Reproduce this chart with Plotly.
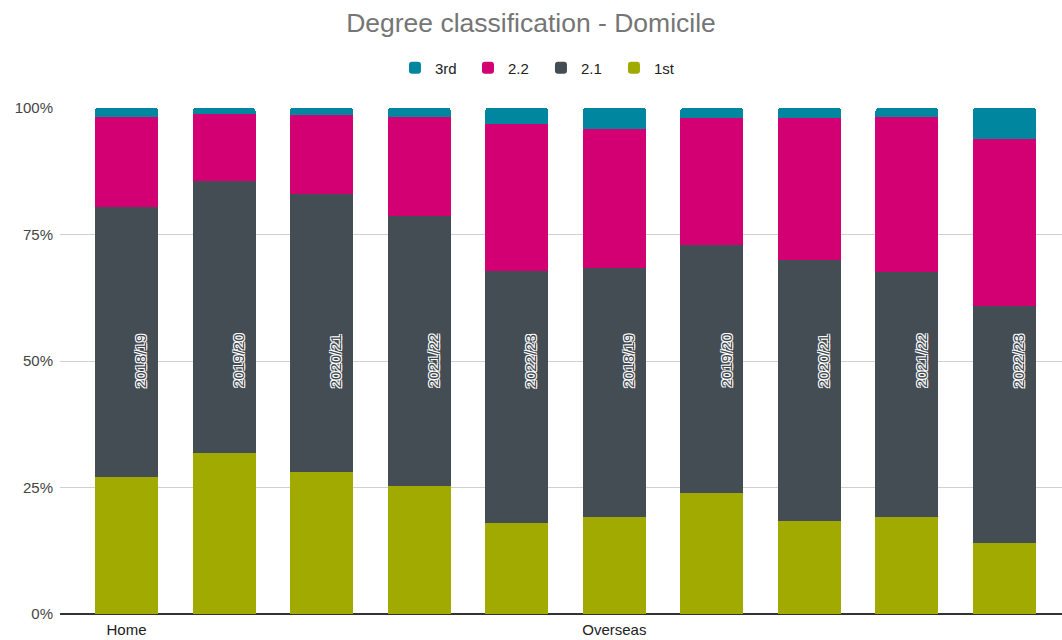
import plotly.graph_objects as go

# x positions: Home 2018/19 .. 2022/23, then Overseas 2018/19 .. 2022/23
groups = ["Home", "", "", "", "", "Overseas", "", "", "", ""]
years = ["2018/19", "2019/20", "2020/21", "2021/22", "2022/23",
         "2018/19", "2019/20", "2020/21", "2021/22", "2022/23"]

first = [27.1, 31.8, 28.0, 25.3, 18.0, 19.1, 24.0, 18.3, 19.1, 14.0]
two_one = [53.3, 53.8, 55.1, 53.3, 49.8, 49.3, 48.9, 51.7, 48.4, 46.8]
two_two = [17.9, 13.2, 15.5, 19.7, 29.0, 27.4, 25.1, 28.0, 30.7, 33.1]
third = [1.7, 1.2, 1.4, 1.7, 3.2, 4.2, 2.0, 2.0, 1.8, 6.1]

y_ticks = [0, 25, 50, 75, 100]
y_tick_text = ["0%", "25%", "50%", "75%", "100%"]

x = list(range(len(years)))

series = [
    ("1st", first, "#a0aa00"),
    ("2.1", two_one, "#444c54"),
    ("2.2", two_two, "#d20073"),
    ("3rd", third, "#00869f"),
]

fig = go.Figure()
for name, vals, color in series:
    fig.add_trace(
        go.Bar(
            x=x,
            y=vals,
            name=name,
            marker=dict(color=color, line=dict(width=0)),
            width=0.646,
            hoverinfo="skip",
        )
    )

# rotated year labels inside the bars (dark text, white outline)
for xi, yr in zip(x, years):
    fig.add_annotation(
        x=xi + 0.14,
        y=50,
        xref="x",
        yref="y",
        text=yr,
        textangle=-90,
        showarrow=False,
        font=dict(
            family="Liberation Sans, Arial, sans-serif",
            size=15,
            color="#3e454c",
            shadow="-1px -1px 0 #fff, 1px -1px 0 #fff, -1px 1px 0 #fff, 1px 1px 0 #fff",
        ),
    )

fig.update_layout(
    width=1062,
    height=640,
    barmode="stack",
    barcornerradius=3,
    paper_bgcolor="white",
    plot_bgcolor="white",
    font=dict(family="Liberation Sans, Arial, sans-serif", size=15, color="#444"),
    title=dict(
        text="Degree classification - Domicile",
        x=0.5,
        xanchor="center",
        y=0.965,
        yanchor="middle",
        font=dict(size=26.5, color="#757575"),
    ),
    legend=dict(
        orientation="h",
        x=0.48,
        xanchor="center",
        y=1.079,
        yanchor="middle",
        traceorder="reversed",
        font=dict(size=15, color="#222"),
        itemwidth=30,
        entrywidth=28,
        entrywidthmode="pixels",
    ),
    margin=dict(l=60, r=0, t=108, b=26),
    showlegend=True,
)

fig.update_xaxes(
    range=[-0.682, 9.589],
    tickvals=x,
    ticktext=groups,
    showgrid=False,
    ticks="",
    ticklabelstandoff=5,
    tickfont=dict(size=15, color="#222"),
    automargin=False,
)
fig.update_yaxes(
    range=[0, 100],
    tickvals=y_ticks,
    ticktext=y_tick_text,
    showgrid=True,
    gridcolor="#d0d0d0",
    zeroline=True,
    zerolinecolor="#333",
    zerolinewidth=1.5,
    ticklabelstandoff=6,
    tickfont=dict(size=15, color="#444"),
    automargin=False,
)

fig.write_html(
    "out.html",
    config={"displayModeBar": False},
    post_script="document.body.style.margin='0';",
)
